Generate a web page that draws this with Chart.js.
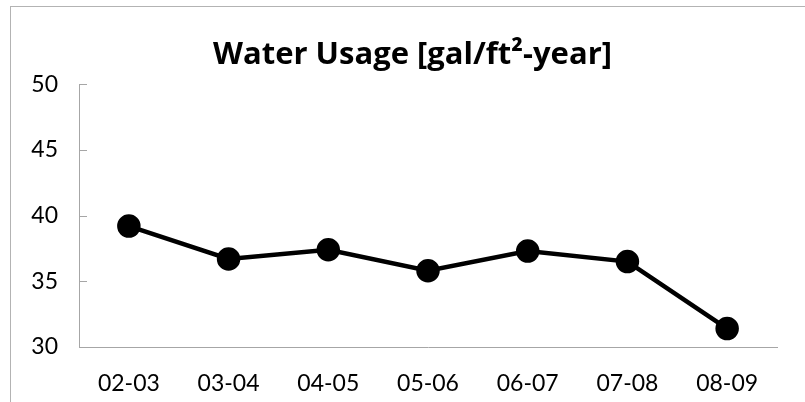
<!DOCTYPE html>
<html>
<head>
<meta charset="utf-8">
<script src="https://cdn.jsdelivr.net/npm/chart.js@4"></script>
<style>
    body { margin: 0; background: #fff; }
    #frame {
        position: absolute; left: 10px; top: 6px;
        width: 795px; height: 396px;
        border-top: 1px solid #b3b3b3;
        border-left: 1px solid #b3b3b3;
        box-sizing: border-box;
    }
</style>
</head>
<body>
<div id="frame"><canvas id="usageChart"></canvas></div>
<script>
const seasons = ['02-03', '03-04', '04-05', '05-06', '06-07', '07-08', '08-09'];
const usage = [39.2, 36.7, 37.4, 35.8, 37.3, 36.5, 31.4];
const yTicks = [30, 35, 40, 45, 50];

// Excel-style tick marks pointing into the plot
const innerTicks = {
    id: 'innerTicks',
    afterDraw(chart) {
        const y = chart.scales.y;
        const c = chart.ctx;
        c.save();
        c.strokeStyle = '#a6a6a6';
        c.lineWidth = 1;
        yTicks.forEach(v => {
            const py = Math.round(y.getPixelForValue(v)) + 0.5;
            c.beginPath();
            c.moveTo(y.right, py);
            c.lineTo(y.right + 8, py);
            c.stroke();
        });
        c.restore();
    }
};

const ctx = document.getElementById('usageChart').getContext('2d');
new Chart(ctx, {
    type: 'line',
    data: {
        labels: seasons,
        datasets: [{
            data: usage,
            borderColor: '#000',
            backgroundColor: '#000',
            borderWidth: 4.5,
            pointRadius: 9.5,
            pointHoverRadius: 9.5,
            tension: 0,
            fill: false,
        }]
    },
    options: {
        responsive: true,
        maintainAspectRatio: false,
        animation: false,
        layout: { padding: { left: 9, right: 0, top: 0, bottom: 0 } },
        plugins: {
            legend: { display: false },
            tooltip: { enabled: false },
            title: {
                display: true,
                text: 'Water Usage [gal/ft²-year]',
                color: '#000',
                font: { family: 'Open Sans', size: 31, weight: 'bold' },
                padding: { top: 30, bottom: 10 }
            }
        },
        scales: {
            x: {
                offset: true,
                grid: { display: false },
                border: { color: '#a6a6a6', width: 1 },
                ticks: {
                    color: '#000',
                    font: { family: 'Lato', size: 23 },
                    padding: 15,
                    maxRotation: 0
                },
                afterFit(scale) { scale.height = 55; }
            },
            y: {
                min: 30,
                max: 50,
                afterBuildTicks(scale) { scale.ticks = yTicks.map(v => ({ value: v })); },
                grid: { display: false },
                border: { color: '#a6a6a6', width: 1 },
                ticks: {
                    color: '#000',
                    font: { family: 'Lato', size: 23 },
                    padding: 13
                },
                afterFit(scale) { scale.width = 59; }
            },
            // empty right margin so the title stays centred on the frame
            yRight: {
                position: 'right',
                grid: { display: false },
                border: { display: false },
                ticks: { display: false },
                afterFit(scale) { scale.width = 28; }
            }
        }
    },
    plugins: [innerTicks]
});
</script>
</body>
</html>
